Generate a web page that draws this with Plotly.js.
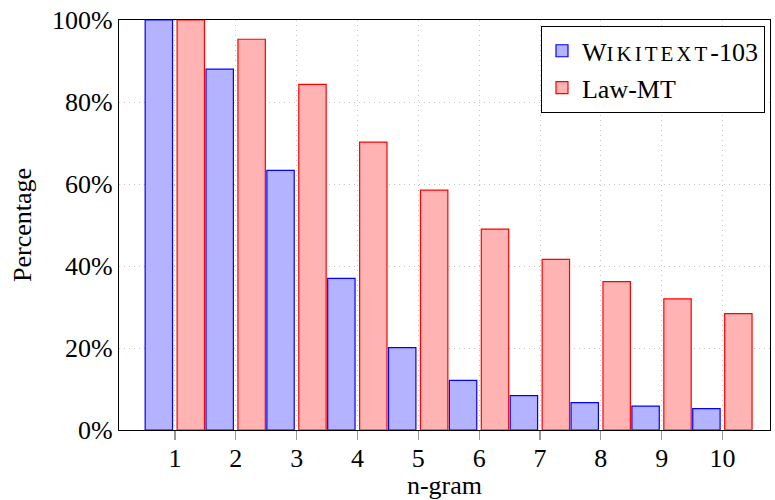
<!DOCTYPE html>
<html>
<head>
<meta charset="utf-8">
<script src="https://cdn.plot.ly/plotly-3.0.1.min.js"></script>
<style>body{margin:0;padding:0;background:#fff;}</style>
</head>
<body>
<div id="chart" style="width:775px;height:500px;"></div>
<script>
const ngrams = [1, 2, 3, 4, 5, 6, 7, 8, 9, 10];
const wikitext = [100, 88.0, 63.3, 37.0, 20.1, 12.1, 8.4, 6.7, 5.8, 5.2];
const lawmt = [100, 95.3, 84.3, 70.2, 58.5, 49.0, 41.6, 36.2, 32.0, 28.4];
const tickLabels = ['1','2','3','4','5','6','7','8','9','10'];

const font = {family: '"Liberation Serif"', size: 26, color: '#000'};

const traces = [
  {
    type: 'bar', x: ngrams, y: wikitext,
    name: 'W<span style="font-size:21px;letter-spacing:3px">IKITEXT</span>-103',
    width: 0.45, offset: -0.49,
    marker: {color: 'rgb(179,179,255)', line: {color: 'rgb(0,0,255)', width: 1.2}}
  },
  {
    type: 'bar', x: ngrams, y: lawmt,
    name: 'Law-MT',
    width: 0.45, offset: 0.035,
    marker: {color: 'rgb(255,179,179)', line: {color: 'rgb(255,0,0)', width: 1.2}}
  }
];

const layout = {
  width: 775, height: 500,
  margin: {l: 119, r: 5, t: 20, b: 70},
  paper_bgcolor: '#fff', plot_bgcolor: '#fff',
  font: font,
  showlegend: true,
  barmode: 'overlay',
  xaxis: {
    range: [0.08, 10.78],
    tickvals: ngrams, ticktext: tickLabels,
    ticks: 'outside', ticklen: 9, tickcolor: '#999', tickwidth: 1.2,
    ticklabelstandoff: -4,
    showgrid: true, gridcolor: '#c4c4c4', griddash: '1px,4px', gridwidth: 1,
    showline: true, linecolor: '#000', linewidth: 1.2, mirror: true,
    zeroline: false,
    tickfont: font,
    title: {text: 'n-gram', font: font, standoff: 0}
  },
  yaxis: {
    range: [0, 100],
    tickvals: [0, 20, 40, 60, 80, 100],
    ticktext: ['0%', '20%', '40%', '60%', '80%', '100%'],
    ticks: '',
    showgrid: true, gridcolor: '#c4c4c4', griddash: '1px,4px', gridwidth: 1,
    showline: true, linecolor: '#000', linewidth: 1.2, mirror: true,
    zeroline: false,
    tickfont: font,
    title: {text: 'Percentage', font: font, standoff: 12}
  },
  legend: {
    x: 0.992, xanchor: 'right', y: 0.985, yanchor: 'top',
    bordercolor: '#000', borderwidth: 1.2, bgcolor: '#fff',
    font: font, tracegroupgap: 0
  }
};

Plotly.newPlot('chart', traces, layout, {displayModeBar: false, staticPlot: true});
</script>
</body>
</html>
